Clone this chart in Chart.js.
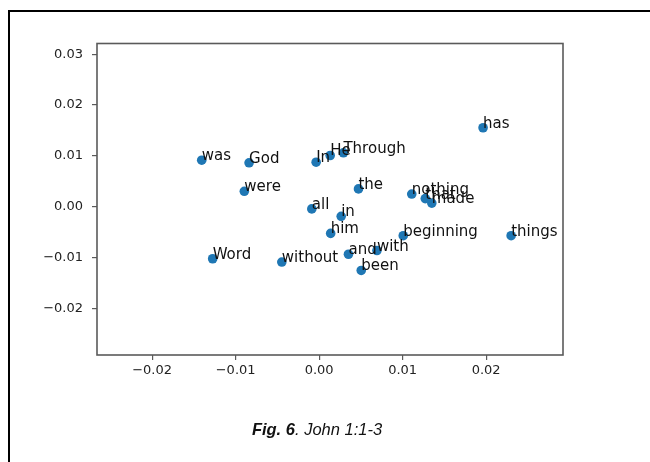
<!DOCTYPE html>
<html><head><meta charset="utf-8">
<script src="https://cdn.jsdelivr.net/npm/chart.js@4.4.0/dist/chart.umd.min.js"></script>
<style>
html,body{margin:0;padding:0;background:#fff;}
#wrap{position:relative;width:650px;height:462px;overflow:hidden;background:#fff;}
#frame{position:absolute;left:8px;top:10px;width:700px;height:500px;border:2.5px solid #000;}
#c{position:absolute;left:0;top:0;}
#cap{position:absolute;left:0;width:634px;top:420px;line-height:19px;text-align:center;font:italic 16.5px "Liberation Sans",Arial,sans-serif;color:#111;}
</style></head>
<body><div id="wrap"><div id="frame"></div><canvas id="c" width="650" height="462"></canvas><div id="cap"><b>Fig. 6</b>. John 1:1-3</div></div>
<script>
const words = ['In','the','beginning','was','Word','and','with','God','He','in','all','things','were','made','Through','him','without','nothing','that','has','been'];
const xValues = [-0.00036,0.00471,0.01007,-0.01406,-0.01275,0.00351,0.00692,-0.00839,0.00132,0.00264,-0.00088,0.02299,-0.00896,0.01349,0.00291,0.00138,-0.00447,0.01109,0.01271,0.01963,0.00504];
const yValues = [0.00874,0.00349,-0.00572,0.00913,-0.01026,-0.00937,-0.00864,0.00862,0.01006,-0.00191,-0.00045,-0.00572,0.00302,0.00069,0.01059,-0.00527,-0.01091,0.00247,0.00158,0.01552,-0.01256];
const xTicks = [-0.02,-0.01,0,0.01,0.02];
const xTickLabels = ['\u22120.02','\u22120.01','0.00','0.01','0.02'];
const yTicks = [-0.02,-0.01,0,0.01,0.02,0.03];
const yTickLabels = ['\u22120.02','\u22120.01','0.00','0.01','0.02','0.03'];
const xRange = [-0.0266, 0.0292];
const yRange = [-0.0292, 0.0321];

const points = xValues.map((x,i)=>({x:x,y:yValues[i]}));

const labelPlugin = {
  id:'wordLabels',
  afterDatasetsDraw(chart){
    const ctx = chart.ctx, xs = chart.scales.x, ys = chart.scales.y;
    ctx.save();
    ctx.font = '15px "DejaVu Sans"';
    ctx.fillStyle = '#111';
    ctx.textAlign = 'left';
    ctx.textBaseline = 'alphabetic';
    words.forEach((w,i)=>{
      ctx.fillText(w, xs.getPixelForValue(xValues[i]), ys.getPixelForValue(yValues[i]));
    });
    ctx.restore();
  },
  afterDraw(chart){
    const ctx = chart.ctx, a = chart.chartArea;
    ctx.save();
    ctx.strokeStyle = '#5a5a5a';
    ctx.lineWidth = 1.6;
    ctx.strokeRect(a.left, a.top, a.right-a.left, a.bottom-a.top);
    ctx.restore();
  }
};

new Chart(document.getElementById('c'), {
  type:'scatter',
  data:{datasets:[{data:points, backgroundColor:'#1f77b4', borderWidth:0, pointRadius:4.8, pointHoverRadius:4.8}]},
  options:{
    responsive:false, devicePixelRatio:1, animation:false,
    layout:{padding:{left:37, top:43.5, right:87, bottom:72}},
    plugins:{legend:{display:false}, tooltip:{enabled:false}},
    scales:{
      x:{type:'linear', min:xRange[0], max:xRange[1],
        afterBuildTicks(s){ s.ticks = xTicks.map(v=>({value:v})); },
        afterFit(s){ s.height = 35; },
        grid:{drawOnChartArea:false, drawTicks:true, tickLength:5, color:'#5a5a5a', lineWidth:1.2},
        border:{display:false},
        ticks:{font:{family:'DejaVu Sans', size:13}, color:'#222', padding:3, maxRotation:0,
          callback(v,i){ return xTickLabels[i]; }}
      },
      y:{type:'linear', min:yRange[0], max:yRange[1],
        afterBuildTicks(s){ s.ticks = yTicks.map(v=>({value:v})); },
        afterFit(s){ s.width = 60; },
        grid:{drawOnChartArea:false, drawTicks:true, tickLength:5, color:'#5a5a5a', lineWidth:1.2},
        border:{display:false},
        ticks:{font:{family:'DejaVu Sans', size:13}, color:'#222', padding:9,
          callback(v,i){ return yTickLabels[i]; }}
      }
    }
  },
  plugins:[labelPlugin]
});
</script>
</body></html>
